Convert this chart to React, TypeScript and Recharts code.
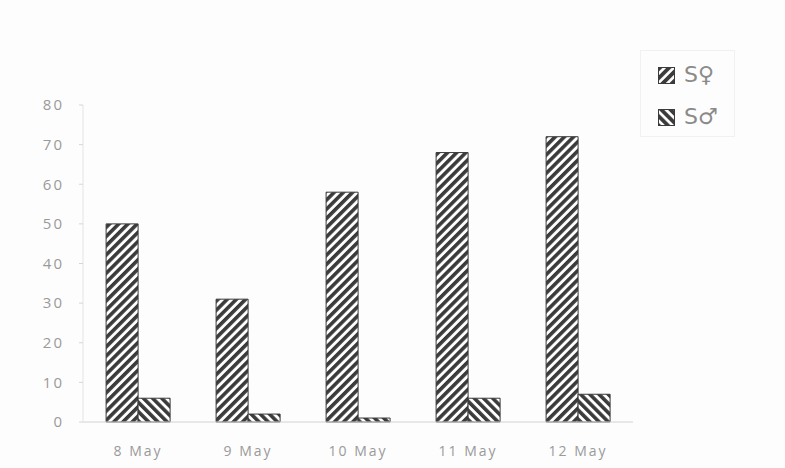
import React from "react";
import { BarChart, Bar, XAxis, YAxis } from "recharts";

const categories = ["8 May", "9 May", "10 May", "11 May", "12 May"];
const femaleValues = [50, 31, 58, 68, 72];
const maleValues = [6, 2, 1, 6, 7];
const yTicks = [0, 10, 20, 30, 40, 50, 60, 70, 80];
const femaleLabel = "S\u2640";
const maleLabel = "S\u2642";

const data = categories.map((c, i) => ({ name: c, female: femaleValues[i], male: maleValues[i] }));

const DARK = "#3b3b3b";
const FONT = "'Open Sans', 'Liberation Sans', sans-serif";

const LegendBox = () => (
  <div
    style={{
      position: "absolute",
      left: 640,
      top: 50,
      width: 95,
      height: 87,
      boxSizing: "border-box",
      border: "1px solid #f1f1f1",
      fontFamily: "'DejaVu Sans', sans-serif",
      fontSize: 22,
      color: "#8a8a8a",
    }}
  >
    {[
      { label: femaleLabel, rot: 45, top: 14 },
      { label: maleLabel, rot: -45, top: 56 },
    ].map((e, i) => (
      <div
        key={i}
        style={{ position: "absolute", left: 17, top: e.top, display: "flex", alignItems: "center", height: 20 }}
      >
        <svg width={17} height={17} style={{ marginRight: 9 }}>
          <defs>
            <pattern id={`leg${i}`} patternUnits="userSpaceOnUse" width={6.5} height={6.5} patternTransform={`rotate(${e.rot})`}>
              <rect width={6.5} height={6.5} fill="#fff" />
              <rect width={3.8} height={6.5} fill={DARK} />
            </pattern>
          </defs>
          <rect x={0.5} y={0.5} width={16} height={16} fill={`url(#leg${i})`} stroke={DARK} strokeWidth={1} />
        </svg>
        <span style={{ lineHeight: "20px" }}>{e.label}</span>
      </div>
    ))}
  </div>
);

export default function App() {
  return (
    <div style={{ position: "fixed", left: 0, top: 0, width: 785, height: 468, background: "#fdfdfd" }}>
      <BarChart
        width={785}
        height={468}
        data={data}
        margin={{ top: 105, right: 152, bottom: 16, left: 0 }}
        barCategoryGap="21%"
        barGap={0}
      >
        <defs>
          <pattern id="hatchF" patternUnits="userSpaceOnUse" width={6.5} height={6.5} patternTransform="rotate(45)">
            <rect width={6.5} height={6.5} fill="#fff" />
            <rect width={3.6} height={6.5} fill={DARK} />
          </pattern>
          <pattern id="hatchM" patternUnits="userSpaceOnUse" width={6.5} height={6.5} patternTransform="rotate(-45)">
            <rect width={6.5} height={6.5} fill="#fff" />
            <rect width={3.6} height={6.5} fill={DARK} />
          </pattern>
        </defs>
        <XAxis
          dataKey="name"
          height={30}
          axisLine={{ stroke: "#d2d2d2" }}
          tickLine={false}
          tickMargin={18}
          tick={{ fill: "#9a9a9a", fontSize: 14, letterSpacing: 2, fontFamily: FONT }}
        />
        <YAxis
          width={83}
          domain={[0, 80]}
          ticks={yTicks}
          interval={0}
          axisLine={{ stroke: "#e4e4e4" }}
          tickLine={{ stroke: "#d6d6d6" }}
          tickSize={4}
          tickMargin={15}
          tick={{ fill: "#9a9a9a", fontSize: 15, letterSpacing: 2, fontFamily: FONT }}
        />
        <Bar dataKey="female" name={femaleLabel} fill="url(#hatchF)" stroke={DARK} strokeWidth={1} isAnimationActive={false} />
        <Bar dataKey="male" name={maleLabel} fill="url(#hatchM)" stroke={DARK} strokeWidth={1} isAnimationActive={false} />
      </BarChart>
      <LegendBox />
    </div>
  );
}
